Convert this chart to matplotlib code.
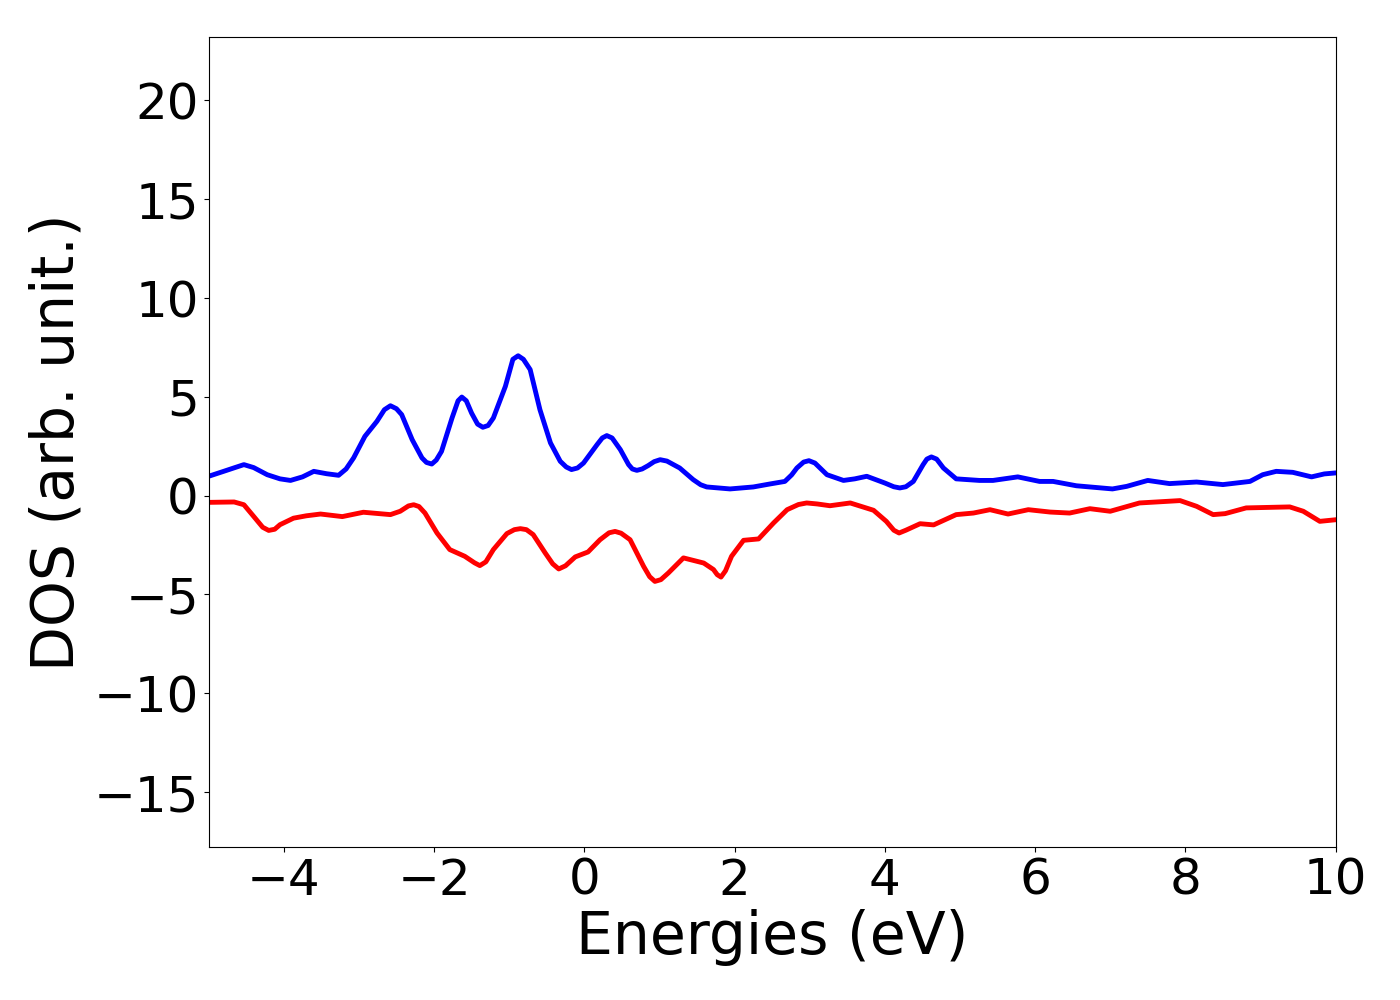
import matplotlib
matplotlib.use("Agg")
import matplotlib.pyplot as plt

# spin up (blue)
e_up = [-5.0, -4.80, -4.65, -4.53, -4.40, -4.22, -4.05, -3.91, -3.75, -3.60, -3.43, -3.27,
        -3.17, -3.07, -2.92, -2.76, -2.66, -2.58, -2.50, -2.43, -2.29, -2.16, -2.10, -2.03,
        -1.97, -1.90, -1.76, -1.68, -1.63, -1.57, -1.50, -1.42, -1.35, -1.28, -1.21,
        -1.05, -0.95, -0.88, -0.81, -0.72, -0.59, -0.45, -0.32, -0.24, -0.17, -0.09,
        -0.01, 0.17, 0.24, 0.30, 0.37, 0.48, 0.59, 0.64, 0.70, 0.77, 0.85, 0.93, 1.01,
        1.10, 1.27, 1.45, 1.55, 1.63, 1.94, 2.25, 2.47, 2.67, 2.76, 2.83, 2.92, 2.99,
        3.07, 3.23, 3.45, 3.60, 3.76, 4.00, 4.12, 4.20, 4.28, 4.38, 4.51, 4.56, 4.62,
        4.69, 4.78, 4.95, 5.26, 5.44, 5.77, 6.06, 6.24, 6.55, 7.03, 7.22, 7.50, 7.79,
        8.15, 8.50, 8.86, 9.03, 9.21, 9.43, 9.68, 9.85, 10.0]
dos_up = [0.98, 1.23, 1.42, 1.57, 1.42, 1.06, 0.85, 0.77, 0.95, 1.23, 1.11, 1.03,
          1.35, 1.91, 3.0, 3.76, 4.35, 4.55, 4.40, 4.10, 2.83, 1.91, 1.68, 1.60,
          1.80, 2.24, 3.93, 4.80, 4.99, 4.80, 4.18, 3.62, 3.46, 3.55, 3.93,
          5.53, 6.90, 7.08, 6.90, 6.38, 4.35, 2.67, 1.74, 1.45, 1.32, 1.40,
          1.65, 2.58, 2.92, 3.04, 2.92, 2.33, 1.57, 1.35, 1.28, 1.35, 1.52, 1.72, 1.82,
          1.75, 1.40, 0.81, 0.55, 0.44, 0.34, 0.44, 0.59, 0.72, 1.05, 1.40, 1.70, 1.77,
          1.65, 1.06, 0.77, 0.85, 0.98, 0.64, 0.45, 0.39, 0.45, 0.72, 1.57, 1.85, 1.96,
          1.85, 1.40, 0.85, 0.77, 0.77, 0.95, 0.72, 0.72, 0.50, 0.34, 0.47, 0.77, 0.61,
          0.69, 0.56, 0.72, 1.06, 1.23, 1.18, 0.95, 1.10, 1.15]

# spin down (red)
e_dn = [-5.0, -4.66, -4.53, -4.40, -4.28, -4.20, -4.12, -4.05, -3.87, -3.70, -3.51, -3.22,
        -2.94, -2.58, -2.45, -2.34, -2.27, -2.20, -2.12, -1.96, -1.79, -1.59, -1.46, -1.39,
        -1.31, -1.21, -1.03, -0.93, -0.85, -0.77, -0.68, -0.52, -0.42, -0.34, -0.25,
        -0.12, 0.05, 0.21, 0.33, 0.41, 0.49, 0.61, 0.79, 0.87, 0.94, 1.02, 1.12, 1.32,
        1.59, 1.72, 1.77, 1.82, 1.88, 1.96, 2.12, 2.32, 2.52, 2.70, 2.85, 2.96, 3.10,
        3.27, 3.54, 3.85, 4.02, 4.12, 4.19, 4.28, 4.47, 4.65, 4.95, 5.18, 5.40, 5.64,
        5.91, 6.20, 6.46, 6.73, 7.00, 7.39, 7.93, 8.15, 8.37, 8.53, 8.81, 9.39, 9.57,
        9.79, 10.0]
dos_dn = [-0.34, -0.32, -0.46, -1.05, -1.60, -1.76, -1.70, -1.47, -1.14, -1.02, -0.93, -1.06,
          -0.84, -0.96, -0.79, -0.52, -0.46, -0.55, -0.88, -1.89, -2.73, -3.07, -3.40, -3.54,
          -3.35, -2.73, -1.92, -1.72, -1.67, -1.72, -1.97, -2.90, -3.45, -3.71, -3.55,
          -3.10, -2.85, -2.23, -1.88, -1.81, -1.90, -2.23, -3.58, -4.10, -4.34, -4.25, -3.91,
          -3.15, -3.41, -3.74, -4.00, -4.12, -3.80, -3.07, -2.26, -2.19, -1.38, -0.71, -0.45,
          -0.37, -0.42, -0.51, -0.37, -0.74, -1.30, -1.75, -1.89, -1.75, -1.42, -1.48, -0.96,
          -0.88, -0.71, -0.93, -0.71, -0.83, -0.88, -0.66, -0.79, -0.37, -0.25, -0.54, -0.96,
          -0.91, -0.62, -0.57, -0.79, -1.30, -1.22]

fig = plt.figure(figsize=(14, 10), dpi=100)
ax = fig.add_axes([0.149, 0.153, 0.805, 0.810])

ax.plot(e_up, dos_up, color="b", linewidth=3.5, solid_joinstyle="round")
ax.plot(e_dn, dos_dn, color="r", linewidth=3.5, solid_joinstyle="round")

ax.set_xlim(-5, 10)
ax.set_ylim(-17.78, 23.21)
ax.set_xticks([-4, -2, 0, 2, 4, 6, 8, 10])
ax.set_yticks([-15, -10, -5, 0, 5, 10, 15, 20])
ax.tick_params(labelsize=36)

ax.set_xlabel("Energies (eV)", fontsize=42, labelpad=3)
ax.set_ylabel("DOS (arb. unit.)", fontsize=42, labelpad=6)

fig.savefig("out.png", dpi=100)
